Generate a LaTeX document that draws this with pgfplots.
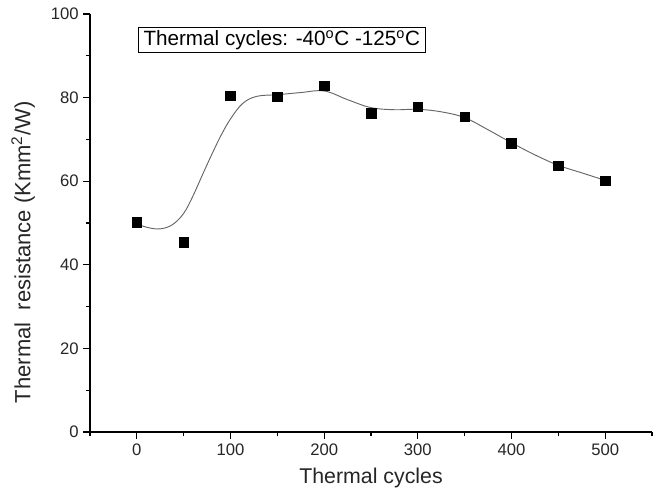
\documentclass[border=0pt]{standalone}
\usepackage{pgfplots}
\pgfplotsset{compat=1.18}
\usepackage{fontspec}
\setmainfont{Liberation Sans}
\begin{document}
\begin{tikzpicture}[x=0.75pt,y=0.75pt]
  \begin{axis}[
    scale only axis,
    width=421.5pt, height=313.5pt,
    xmin=-50, xmax=550, ymin=0, ymax=100,
    axis x line*=bottom, axis y line*=left,
    axis line style={line width=1.1pt},
    every tick/.style={black, line width=0.9pt},
    tick align=outside,
    major tick length=5pt, minor tick length=3pt,
    xtick={0,100,...,500}, minor xtick={-50,50,150,250,350,450,550},
    ytick={0,20,...,100}, minor ytick={10,30,50,70,90},
    /pgf/number format/assume math mode=true,
    tick label style={font=\fontsize{12.5}{14}\selectfont, text=black!85},
    xlabel={Thermal cycles},
    ylabel={Thermal\ \ resistance (Kmm\textsuperscript{2}/W)},
    xlabel style={font=\fontsize{16}{18}\selectfont, text=black!85, yshift=-3pt},
    ylabel style={font=\fontsize{16.5}{19}\selectfont, text=black!85, yshift=5pt, xshift=-22pt},
    clip=false,
  ]
  % fitted curve
  \addplot[black!60, line width=0.7pt, smooth, tension=0.6] coordinates {
    (0,49.8) (12,48.9) (25,48.6) (38,49.6) (50,52.3) (60,56.5) (70,61.5) (80,66.4)
    (90,71.0) (100,74.9) (113,78.6) (128,80.3) (150,80.7) (175,81.2) (200,81.6)
    (225,79.5) (250,77.6) (275,77.1) (300,77.2) (325,76.6) (350,75.2) (375,72.3)
    (400,69.2) (425,66.3) (450,63.8) (475,62.0) (500,60.2)
  };
  % measured points
  \addplot[only marks, mark=square*, mark size=3.6pt, black] coordinates {
    (0,50.2) (50,45.4) (100,80.4) (150,80.2) (200,82.8) (250,76.3)
    (300,77.8) (350,75.4) (400,69.1) (450,63.7) (500,60.1)
  };
  \node[draw, line width=0.6pt, anchor=west, inner xsep=4pt, inner ysep=2pt]
    at (axis cs:1,93.8) {\fontsize{15.5}{18}\selectfont Thermal cycles: -40\textsuperscript{o}C -125\textsuperscript{o}C};
  \end{axis}
  \path (current axis.south west) ++(-67.5pt,-51.75pt) coordinate (bl);
  \path (current axis.north east) ++(5.25pt,10.5pt) coordinate (tr);
  \path (bl) rectangle (tr);
\end{tikzpicture}
\end{document}
